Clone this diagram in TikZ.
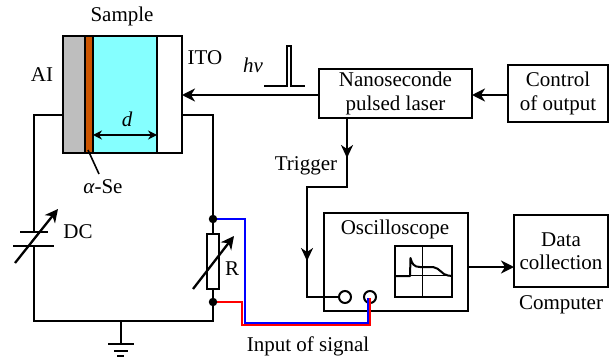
\documentclass[tikz,border=0pt]{standalone}
\usepackage{fontspec}
\setmainfont{Liberation Serif}
\usetikzlibrary{arrows.meta,calc}
\definecolor{cyanfill}{RGB}{133,255,255}
\definecolor{orangefill}{RGB}{204,85,0}
\definecolor{grayfill}{RGB}{190,190,190}
\tikzset{
  wire/.style={line width=2.3pt,black},
  thinw/.style={line width=1.3pt,black},
  arr/.style={wire,-{Stealth[length=13pt,width=13pt,inset=4pt]}},
  midarr/.style={-{Stealth[length=13pt,width=12pt,inset=4pt]}},
  box/.style={draw,line width=2.3pt,rectangle,outer sep=0pt,inner sep=0pt,align=center,font=\fontsize{21}{23.5}\selectfont},
  lab/.style={inner sep=0pt,align=center,font=\fontsize{21}{23.5}\selectfont},
  dot/.style={circle,fill=black,inner sep=0pt,minimum size=8.5pt},
  port/.style={circle,draw,line width=2pt,inner sep=0pt,minimum size=12pt,outer sep=0pt},
}
\begin{document}
\begin{tikzpicture}[x=1pt,y=-1pt]
\useasboundingbox (0,0) rectangle (612,358);
% sample
\fill[grayfill] (63,36) rectangle (85,153);
\fill[orangefill] (85,36) rectangle (93,153);
\fill[cyanfill] (93,36) rectangle (157,153);
\node[box,minimum width=119pt,minimum height=117pt] (sample) at (122.5,94.5) {};
\draw[thinw] (85,36) -- (85,153);
\draw[thinw] (93,36) -- (93,153);
\draw[thinw] (157,36) -- (157,153);
\node[lab] (tsample) at (122,16) {Sample};
\node[lab] (tal) at (42,75) {AI};
\node[lab] (tito) at (205,58) {ITO};
\node[lab] (thv) at (253,65) {\itshape hv};
\node[lab] (td) at (127,119) {\itshape d};
\coordinate (dl) at (93,135); \coordinate (dr) at (157,135);
\draw[line width=2pt,{Stealth[length=9pt,width=9pt]}-{Stealth[length=9pt,width=9pt]}] (dl) -- (dr);
\node[lab] (tase) at (103,187) {\itshape α\upshape -Se};
\coordinate (leadtop) at (88,150); \coordinate (leadend) at (99,174);
\draw[line width=1.6pt] (leadtop) -- (leadend);
% circuit
\coordinate (sw) at (63,115); \coordinate (se) at (182,115);
\coordinate (bl) at (34,321); \coordinate (br) at (213,321);
\coordinate (c1) at (34,232); \coordinate (c2) at (34,246);
\coordinate (dt) at (213,219); \coordinate (db) at (213,302);
\node[box,minimum width=12pt,minimum height=55pt] (res) at (213,261.5) {};
\draw[wire] (sw) -| (c1);
\draw[wire] (c2) -- (bl) -- (br) -- (db) -- (res.south);
\draw[wire] (se) -| (dt) -- (res.north);
\draw[wire] (20,232) -- (48,232);
\draw[wire] (13,246) -- (54,246);
\coordinate (capa) at (15,263); \coordinate (capb) at (58,209);
\draw[arr] (capa) -- (capb);
\coordinate (resa) at (193,289); \coordinate (resb) at (234,236);
\draw[arr] (resa) -- (resb);
\node[lab] (tdc) at (78,232) {DC};
\node[lab] (tr) at (232,269) {R};
% ground
\coordinate (g) at (121,321); \coordinate (g1) at (121,344);
\draw[wire] (g) -- (g1);
\draw[wire] (108,344) -- (134,344);
\draw[wire] (114,351) -- (128,351);
\draw[wire] (117,356) -- (124,356);
% scope
\node[box,minimum width=144pt,minimum height=98pt] (scope) at (396,262) {};
\node[lab] (tscope) at (395,229) {Oscilloscope};
\draw[wire] (395,246) rectangle (452,297);
\draw[line width=1pt] (422,246) -- (422,297);
\draw[line width=1pt] (395,275) -- (452,275);
\draw[line width=2pt,line join=round] (396,276) -- (410,276) -- (410.5,258) .. controls (412,264) and (414,267) .. (420,267) -- (433,267) .. controls (440,268) and (442,275) .. (448,275.5) -- (452,276);
\node[port] (p1) at (345,297) {};
\node[port] (p2) at (370,297) {};
% signal wires
\draw[line width=2.3pt,red] (db) -- (242,302) -- (242,325) -- (370,325) -- (370,298);
\draw[line width=2.3pt,blue] (dt) -- (245,219) -- (245,323) -- (368,323) -- (368,298);
\node[dot] at (dt) {};
\node[dot] at (db) {};
\node[lab] (tinput) at (308,346) {Input of signal};
% laser etc.
\node[box,minimum width=153pt,minimum height=49pt] (laser) at (395.5,93.5) {Nanoseconde\\pulsed laser};
\node[box,minimum width=100pt,minimum height=57pt] (ctrl) at (558,93.5) {Control\\of output};
\node[box,minimum width=94pt,minimum height=72pt] (data) at (561,251) {Data\\collection};
\node[lab] (tcomp) at (561,305) {Computer};
\draw[arr] (ctrl.west |- 0,95) -- (laser.east |- 0,95);
\draw[arr] (laser.west |- 0,95) -- (sample.east |- 0,95);
\draw[arr] (scope.east |- 0,267) -- (data.west |- 0,267);
% pulse
\draw[line width=1.9pt] (264,86) -- (287,86) -- (287,46) -- (291,46) -- (291,86) -- (305,86);
% trigger
\coordinate (t1) at (347,118); \coordinate (t2) at (347,187); \coordinate (t3) at (307,187); \coordinate (t4) at (307,297);
\draw[wire] (t1) -- (t2) -- (t3) -- (t4) -- (p1.west);
\draw[wire,midarr] (t1) -- (347,158);
\draw[wire,midarr] (t3) -- (307,261);
\node[lab] (ttrig) at (306,166) {Trigger};
\end{tikzpicture}
\end{document}
